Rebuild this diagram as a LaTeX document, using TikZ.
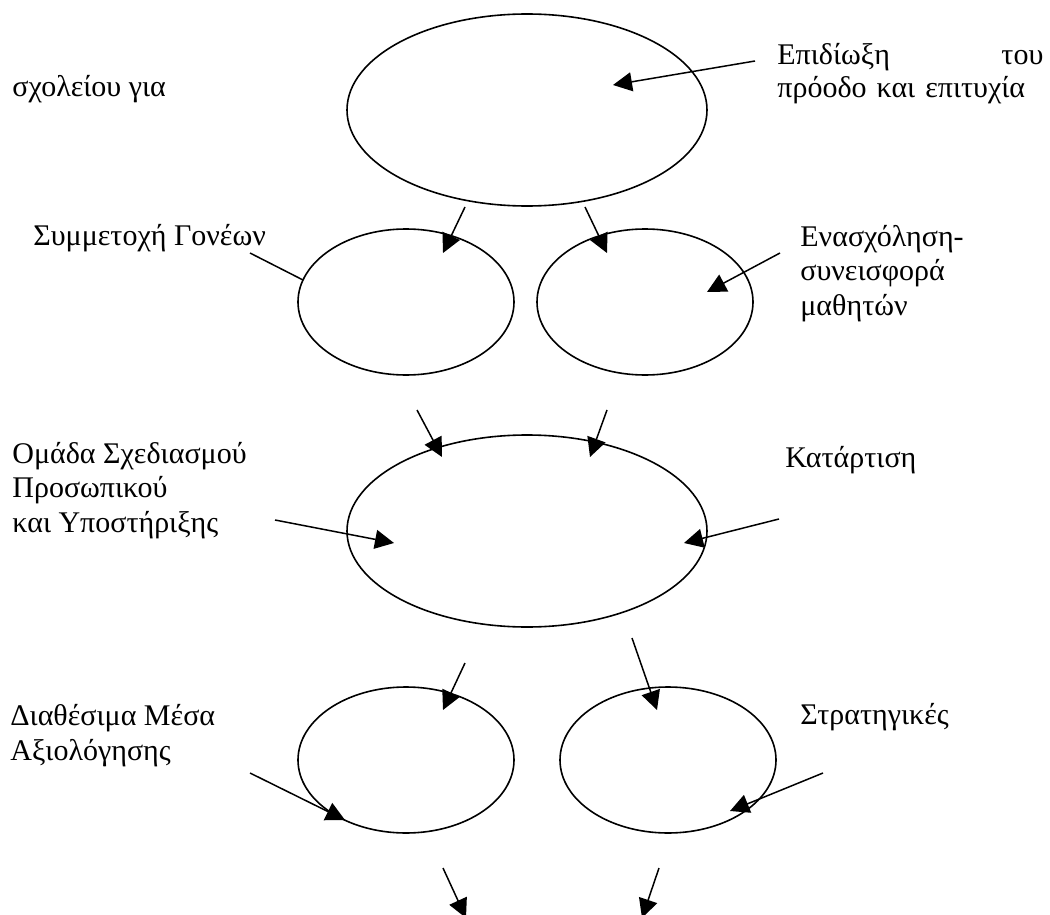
\documentclass[tikz,border=0pt]{standalone}
\usepackage{fontspec}
\setmainfont{Liberation Serif}
\usetikzlibrary{shapes.geometric,arrows.meta}

\begin{document}
\begin{tikzpicture}[x=0.5pt,y=-0.5pt,
  oval/.style={draw,ellipse,line width=0.8pt,inner sep=0pt,outer sep=0pt},
  bigoval/.style={oval,minimum width=180pt,minimum height=96pt},
  smalloval/.style={oval,minimum width=108pt,minimum height=73pt},
  lbl/.style={anchor=base west,inner sep=0pt,align=left,font=\fontsize{15}{17.25}\selectfont},
  arr/.style={line width=0.75pt,-{Triangle[length=9.5pt,width=9.5pt]}},
  lnk/.style={line width=0.75pt}]
  \useasboundingbox (0,0) rectangle (1050,915);
  % the six ellipses
  \node[bigoval] (goal) at (527,110) {};
  \node[smalloval] (parents) at (406,302) {};
  \node[smalloval] (pupils) at (645,302) {};
  \node[bigoval] (team) at (527,531) {};
  \node[smalloval] (means) at (406,760) {};
  \node[smalloval] (strat) at (668,760) {};
  % texts (multi-line ones without text width sit on their last baseline)
  \node[lbl] (goalA) at (12,97) {σχολείου για};
  \node[lbl,text width=133pt,font=\fontsize{15}{16.5}\selectfont] (goalB) at (777,65) {Επιδίωξη \hfill του\\πρόοδο και επιτυχία};
  \node[lbl] (parentsT) at (33,245) {Συμμετοχή Γονέων};
  \node[lbl] (pupilsT) at (800,315) {Ενασχόληση-\\συνεισφορά\\μαθητών};
  \node[lbl] (teamT) at (12,532) {Ομάδα Σχεδιασμού\\Προσωπικού\\και Υποστήριξης};
  \node[lbl] (trainT) at (785,467) {Κατάρτιση};
  \node[lbl] (meansT) at (10,760) {Διαθέσιμα Μέσα\\Αξιολόγησης};
  \node[lbl] (stratT) at (800,724) {Στρατηγικές};
  % arrows: free start -> tip
  \foreach \n/\sx/\sy/\ex/\ey in {1/755/61/613/85, 2/465/207/443/253, 3/585/207/607/253,
      5/780/253/707/292, 6/417/410/442/457, 7/607/410/590/457, 8/275/520/394/543,
      9/779/519/684/543, 10/465/663/443/710, 11/632/638/657/710, 12/250/773/345/820,
      13/823/773/730/811, 14/443/868/466/918, 15/659/868/642/918}{
    \coordinate (s\n) at (\sx,\sy);
    \coordinate (e\n) at (\ex,\ey);
    \draw[arr] (s\n) -- (e\n);
  }
  % plain line to the parents ellipse
  \coordinate (s4) at (250,253);
  \coordinate (e4) at (303,280);
  \draw[lnk] (s4) -- (e4);
\end{tikzpicture}
\end{document}
